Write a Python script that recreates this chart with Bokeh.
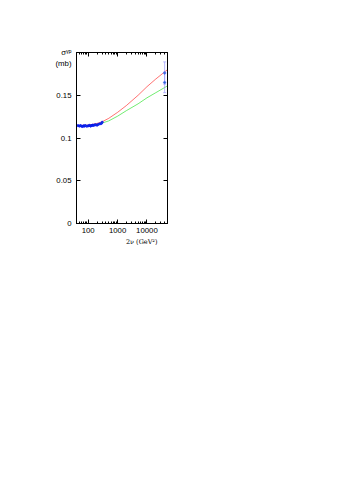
from bokeh.plotting import figure
from bokeh.models import (Range1d, FixedTicker, LogAxis, LinearAxis, Title, ColumnDataSource)
from bokeh.embed import file_html
from bokeh.resources import INLINE

# ---- data ----
low_x = [45, 50, 55, 60, 65, 70, 75, 80, 90, 100, 110, 120, 130, 140, 150, 165, 180, 200, 220, 250, 280, 300]
low_y = [0.1145, 0.1140, 0.1145, 0.1138, 0.1135, 0.1142, 0.1140, 0.1145, 0.1138, 0.1142, 0.1148,
         0.1140, 0.1145, 0.1150, 0.1148, 0.1152, 0.1155, 0.1150, 0.1160, 0.1165, 0.1170, 0.1185]
low_err = [0.0015] * len(low_x)

high_x = [40000, 40000]
high_y = [0.176, 0.165]
high_err = [0.013, 0.012]

curve_x = [40, 100, 200, 300, 500, 1000, 2000, 5000, 10000, 20000, 50000]
red_y = [0.1145, 0.1150, 0.1170, 0.1190, 0.1230, 0.1300, 0.1380, 0.1500, 0.1600, 0.1690, 0.1800]
green_y = [0.1145, 0.1148, 0.1160, 0.1175, 0.1200, 0.1255, 0.1320, 0.1400, 0.1470, 0.1530, 0.1610]

x_ticks = [100, 1000, 10000]
x_minor = [40, 50, 60, 70, 80, 90, 200, 300, 400, 500, 600, 700, 800, 900,
           2000, 3000, 4000, 5000, 6000, 7000, 8000, 9000, 20000, 30000, 40000, 50000]
y_ticks = [0, 0.05, 0.1, 0.15]
y_title = "\u00a0\nσᵞᵖ\n(mb)"
x_title = "2ν (GeV²)"

p = figure(x_axis_type="log", x_range=Range1d(40, 50000), y_range=Range1d(0, 0.2),
           frame_width=91, frame_height=171, output_backend="svg", toolbar_location=None,
           min_border_left=76, min_border_right=20, min_border_top=52, min_border_bottom=40)
p.background_fill_color = "white"
p.border_fill_color = "white"
p.outline_line_color = "black"
p.outline_line_width = 1
p.xgrid.visible = False
p.ygrid.visible = False

def style(ax, labels=True):
    ax.major_tick_in = 4
    ax.major_tick_out = 0
    ax.minor_tick_in = 2
    ax.minor_tick_out = 0
    ax.axis_line_color = "black"
    ax.major_label_text_font = "Liberation Sans"
    ax.major_label_text_font_size = "7.8px"
    ax.major_label_text_color = "black"
    if not labels:
        ax.major_label_text_color = None

xa = p.xaxis[0]
xa.ticker = FixedTicker(ticks=x_ticks, minor_ticks=x_minor)
xa.major_label_overrides = {100: "100", 1000: "1000", 10000: "10000"}
style(xa)
xa.major_label_standoff = 4

ya = p.yaxis[0]
ya.ticker = FixedTicker(ticks=y_ticks + [0.2])
ya.major_label_overrides = {0: "0", 0.05: "0.05", 0.1: "0.1", 0.15: "0.15", 0.2: y_title}
style(ya)
ya.major_label_standoff = 5

top = LogAxis(ticker=FixedTicker(ticks=x_ticks, minor_ticks=x_minor))
style(top, labels=False)
p.add_layout(top, "above")
right = LinearAxis(ticker=FixedTicker(ticks=y_ticks))
style(right, labels=False)
right.minor_tick_line_color = None
p.add_layout(right, "right")

# x-axis title
p.add_layout(Title(text=x_title, align="right", offset=10, standoff=0,
                   text_font="DejaVu Serif", text_font_size="6.5px",
                   text_font_style="normal", text_color="black"), "below")

# curves
p.line(curve_x, red_y, line_color="#ff0000", line_width=0.7, line_alpha=0.8)
p.line(curve_x, green_y, line_color="#00dd00", line_width=0.7, line_alpha=0.8)

# low-energy data
lo = ColumnDataSource(dict(x=low_x, y=low_y,
                           y0=[a - b for a, b in zip(low_y, low_err)],
                           y1=[a + b for a, b in zip(low_y, low_err)]))
p.segment(x0="x", x1="x", y0="y0", y1="y1", source=lo, line_color="#4444ff", line_width=0.5)
p.scatter("x", "y", source=lo, marker="plus", size=2.2, line_color="#0000ff", line_width=0.6)

# high-energy data
hi = ColumnDataSource(dict(x=high_x, y=high_y,
                           y0=[a - b for a, b in zip(high_y, high_err)],
                           y1=[a + b for a, b in zip(high_y, high_err)]))
p.segment(x0="x", x1="x", y0="y0", y1="y1", source=hi, line_color="#9999ff", line_width=0.7)
p.scatter("x", "y0", source=hi, marker="dash", size=3, line_color="#9999ff", line_width=0.7)
p.scatter("x", "y1", source=hi, marker="dash", size=3, line_color="#9999ff", line_width=0.7)
p.scatter("x", "y", source=hi, marker="plus", size=2.5, line_color="#5566ff", line_width=0.6)

open("out.html", "w").write(file_html(p, INLINE))
